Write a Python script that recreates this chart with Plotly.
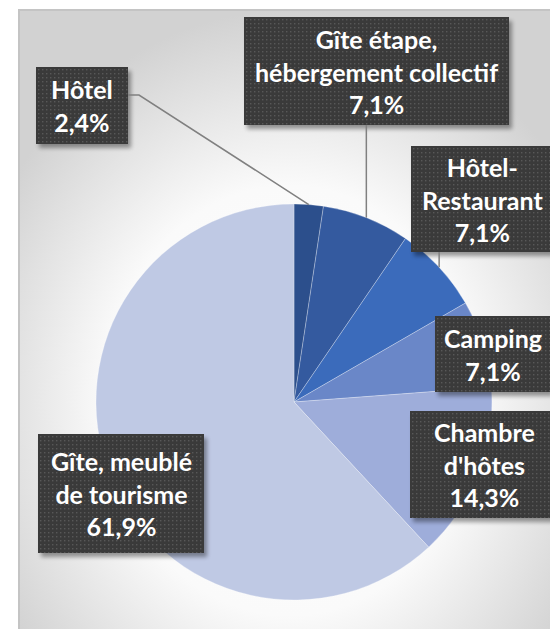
"""Répartition des hébergements touristiques : camembert avec étiquettes encadrées."""

import base64
import math

import plotly.graph_objects as go

# données
CATEGORIES = [
    "Hôtel",
    "Gîte étape,<br>hébergement collectif",
    "Hôtel-<br>Restaurant",
    "Camping",
    "Chambre<br>d'hôtes",
    "Gîte, meublé<br>de tourisme",
]
COUNTS = [1, 3, 3, 3, 6, 26]
COLORS = ["#2c4f8c", "#345a9f", "#3b6bbb", "#6a87c8", "#9eadda", "#bfc9e4"]

W, H = 550, 629
CX, CY, R = 294, 402, 198  # centre et rayon du camembert, en pixels

# boîtes des étiquettes : (x0, y0, x1, y1) en pixels
BOXES = [
    (36, 67, 128, 144),
    (244, 17, 509, 125),
    (411, 146, 553, 252),
    (435, 316, 550, 392),
    (410, 411, 558, 518),
    (38, 434, 204, 553),
]


def px(x):
    return x / W


def py(y):
    return 1 - y / H


def svg_uri(svg):
    return "data:image/svg+xml;base64," + base64.b64encode(svg.encode()).decode()


def slice_edge_points(counts):
    """Point du bord extérieur au milieu de chaque part (sens horaire depuis midi)."""
    total = sum(counts)
    pts = []
    acc = 0
    for c in counts:
        mid = (acc + c / 2) / total * 2 * math.pi
        pts.append((CX + R * math.sin(mid), CY - R * math.cos(mid)))
        acc += c
    return pts


def background_image():
    svg = (
        '<svg xmlns="http://www.w3.org/2000/svg" width="540" height="630">'
        '<defs><radialGradient id="g" cx="0.5" cy="0.62" r="0.62">'
        '<stop offset="0" stop-color="#ffffff"/>'
        '<stop offset="0.55" stop-color="#fafafa"/>'
        '<stop offset="1" stop-color="#d2d2d2"/>'
        "</radialGradient></defs>"
        '<rect width="540" height="630" fill="url(#g)"/></svg>'
    )
    return dict(source=svg_uri(svg), xref="paper", yref="paper",
                x=px(19), y=py(10), sizex=px(560) - px(19), sizey=py(10) - py(640),
                sizing="stretch", xanchor="left", yanchor="top", layer="below")


def box_image(x0, y0, x1, y1):
    """Encadré sombre pointillé avec ombre portée."""
    pad = 3
    bw, bh = x1 - x0, y1 - y0
    iw, ih = bw + pad + 10, bh + pad + 12
    svg = (
        f'<svg xmlns="http://www.w3.org/2000/svg" width="{iw}" height="{ih}" '
        f'viewBox="0 0 {iw} {ih}" preserveAspectRatio="none">'
        '<defs><filter id="s" x="-10%" y="-10%" width="130%" height="130%">'
        '<feGaussianBlur stdDeviation="2.2"/></filter>'
        '<pattern id="p" width="4" height="4" patternUnits="userSpaceOnUse">'
        '<rect width="4" height="4" fill="#3a3a3a"/>'
        '<rect x="1" y="1" width="1.4" height="1.4" fill="#585858"/></pattern></defs>'
        f'<rect x="{pad + 3}" y="{pad + 4}" width="{bw}" height="{bh}" fill="#000" '
        'opacity="0.38" filter="url(#s)"/>'
        f'<rect x="{pad}" y="{pad}" width="{bw}" height="{bh}" fill="url(#p)"/></svg>'
    )
    return dict(source=svg_uri(svg), xref="paper", yref="paper",
                x=px(x0 - pad), y=py(y0 - pad),
                sizex=px(x0 - pad + iw) - px(x0 - pad), sizey=py(y0 - pad) - py(y0 - pad + ih),
                sizing="stretch", xanchor="left", yanchor="top", layer="above")


def build_figure():
    total = sum(COUNTS)
    fig = go.Figure(
        go.Pie(
            labels=[c.replace("<br>", " ") for c in CATEGORIES],
            values=COUNTS,
            sort=False,
            direction="clockwise",
            rotation=0,
            marker=dict(colors=COLORS, line=dict(color="rgba(255,255,255,0.35)", width=0.8)),
            textinfo="none",
            hoverinfo="label+percent",
            domain=dict(x=[px(CX - R), px(CX + R)], y=[py(CY + R), py(CY - R)]),
            showlegend=False,
        )
    )

    shapes = []
    # cadre de la zone de graphique
    shapes.append(
        dict(type="rect", xref="paper", yref="paper", x0=px(19), x1=px(570),
             y0=py(10), y1=py(650), line=dict(color="#c4c4c4", width=2),
             fillcolor="rgba(0,0,0,0)", layer="below")
    )

    edges = slice_edge_points(COUNTS)
    line_style = dict(color="#808080", width=1.5)
    # lignes de rappel
    hx, hy = edges[0]
    shapes.append(dict(type="path", xref="paper", yref="paper",
                       path=f"M {px(128)},{py(95)} L {px(139)},{py(95)} L {px(hx)},{py(hy)}",
                       line=line_style))
    gx, gy = edges[1]
    shapes.append(dict(type="line", xref="paper", yref="paper",
                       x0=px(gx), y0=py(125), x1=px(gx), y1=py(gy), line=line_style))
    rx, ry = edges[2]
    shapes.append(dict(type="line", xref="paper", yref="paper",
                       x0=px(rx), y0=py(252), x1=px(rx), y1=py(ry), line=line_style))

    images = [background_image()]
    annotations = []
    for cat, cnt, (x0, y0, x1, y1) in zip(CATEGORIES, COUNTS, BOXES):
        images.append(box_image(x0, y0, x1, y1))
        pct = f"{cnt / total * 100:.1f}".replace(".", ",") + "%"
        annotations.append(dict(
            xref="paper", yref="paper",
            x=px((x0 + x1) / 2), y=py((y0 + y1) / 2),
            xanchor="center", yanchor="middle",
            text=f"{cat}<br>{pct}", showarrow=False, align="center",
            font=dict(family="Lato", size=25, color="white", weight="bold"),
        ))

    fig.update_layout(
        width=W,
        height=H,
        margin=dict(l=0, r=0, t=0, b=0),
        paper_bgcolor="white",
        plot_bgcolor="white",
        shapes=shapes,
        annotations=annotations,
        images=images,
    )
    return fig


def main():
    fig = build_figure()
    # la page sans marge, pour que la figure remplisse exactement la fenêtre
    fig.write_html(
        "out.html",
        config={"displayModeBar": False},
        post_script="document.body.style.margin='0';document.body.style.overflow='hidden';",
    )


if __name__ == "__main__":
    main()
